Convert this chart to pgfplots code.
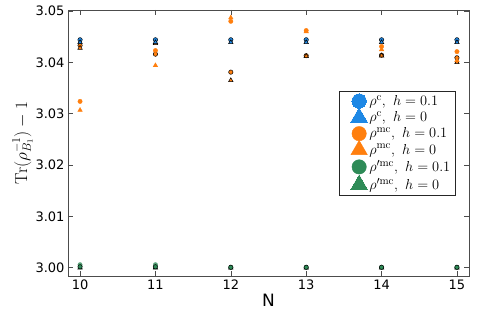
\documentclass[border=0pt]{standalone}
\usepackage{pgfplots}
\pgfplotsset{compat=1.18}
\usepackage[no-math]{fontspec}
\setmainfont{DejaVu Sans}
\definecolor{cblue}{RGB}{30,136,229}
\definecolor{corange}{RGB}{255,127,14}
\definecolor{cgreen}{RGB}{46,139,87}
\begin{document}
\begin{tikzpicture}
\begin{axis}[
  width=401pt, height=266pt, scale only axis,
  xmin=9.84, xmax=15.16, ymin=2.9984, ymax=3.0502,
  xtick={10,11,12,13,14,15},
  ytick={3.00,3.01,3.02,3.03,3.04,3.05},
  yticklabel style={/pgf/number format/fixed,/pgf/number format/fixed zerofill,/pgf/number format/precision=2},
  /pgf/number format/assume math mode=true,
  ticklabel style={font=\fontsize{13}{14}\selectfont},
  tick style={black!70, line width=0.6pt},
  major tick length=5pt,
  axis line style={black!70, line width=0.6pt},
  xlabel={N}, xlabel style={font=\fontsize{17}{18}\selectfont, yshift=2pt},
  ylabel={$\mathrm{Tr}(\rho_{B_1}^{-1})-1$}, ylabel style={font=\fontsize{17}{18}\selectfont, yshift=-4pt},
  legend style={at={(0.965,0.697)}, anchor=north east, font=\fontsize{15}{16}\selectfont, draw=black!85, row sep=0.8pt, inner sep=2.5pt, cells={anchor=west}},
  legend cell align=left,
  legend image code/.code={%
    \begin{pgfinterruptboundingbox}
    \draw[mark repeat=2,mark phase=2,#1] plot coordinates {(0cm,0cm) (0.6cm,0cm) (1.2cm,0cm)};
    \end{pgfinterruptboundingbox}
    \path (0cm,-4pt) (0.88cm,4pt);},
  every axis plot/.append style={only marks},
]
% orange black-edged markers (not in legend), drawn first
\addplot[forget plot, mark=*, mark size=2.2pt, draw=black, fill=corange, line width=0.5pt] coordinates {(10,3.0433)(11,3.0416)(12,3.0381)(13,3.0413)(14,3.0414)(15,3.0409)};
\addplot[forget plot, mark=triangle*, mark size=2.6pt, draw=black, fill=corange, line width=0.5pt] coordinates {(10,3.0428)(11,3.0437)(12,3.0365)(13,3.0412)(14,3.0413)(15,3.0400)};
% blue
\addplot[mark=*, mark size=2.2pt, draw=black, fill=cblue, line width=0.5pt, legend image post style={mark size=7.2pt, draw=cblue, line width=0pt}] coordinates {(10,3.0444)(11,3.0444)(12,3.0444)(13,3.0444)(14,3.0444)(15,3.0444)};
\addlegendentry{$\rho^{\mathrm{c}},\ h=0.1$}
\addplot[mark=triangle*, mark size=2.6pt, draw=black, fill=cblue, line width=0.5pt, legend image post style={mark size=9.5pt, draw=cblue, line width=0pt}] coordinates {(10,3.0439)(11,3.0439)(12,3.0439)(13,3.0439)(14,3.0439)(15,3.0439)};
\addlegendentry{$\rho^{\mathrm{c}},\ h=0$}
% orange
\addplot[mark=*, mark size=2.2pt, draw=corange, fill=corange, legend image post style={mark size=7.2pt}] coordinates {(10,3.0324)(11,3.0423)(12,3.0480)(13,3.0462)(14,3.0431)(15,3.0421)};
\addlegendentry{$\rho^{\mathrm{mc}},\ h=0.1$}
\addplot[mark=triangle*, mark size=2.6pt, draw=corange, fill=corange, legend image post style={mark size=9.5pt}] coordinates {(10,3.0307)(11,3.0394)(12,3.0487)(13,3.0460)(14,3.0425)(15,3.0404)};
\addlegendentry{$\rho^{\mathrm{mc}},\ h=0$}
% green
\addplot[mark=*, mark size=2.2pt, draw=cgreen!80, fill=cgreen!80, legend image post style={mark size=7.2pt, draw=cgreen, fill=cgreen}] coordinates {(10,3.0006)(11,3.0006)(12,3.0001)(13,3.0001)(14,3.0001)(15,3.0001)};
\addlegendentry{$\rho^{\prime\mathrm{mc}},\ h=0.1$}
\addplot[mark=triangle*, mark size=2.6pt, draw=black, fill=cgreen, line width=0.5pt, legend image post style={mark size=9.5pt, draw=cgreen, line width=0pt}] coordinates {(10,3.0000)(11,3.0000)(12,3.0000)(13,3.0000)(14,3.0000)(15,3.0000)};
\addlegendentry{$\rho^{\prime\mathrm{mc}},\ h=0$}
\addplot[forget plot, mark=*, mark size=2.2pt, draw=black, fill=cgreen, line width=0.5pt] coordinates {(10,3.0002)(11,3.0002)(12,3.0001)(13,3.0001)(14,3.0001)(15,3.0001)};
\end{axis}
\path (current axis.south west) ++(-68pt,-43pt) coordinate (padA);
\path (current axis.north east) ++(9pt,10pt) coordinate (padB);
\path (padA) (padB);
\end{tikzpicture}
\end{document}
